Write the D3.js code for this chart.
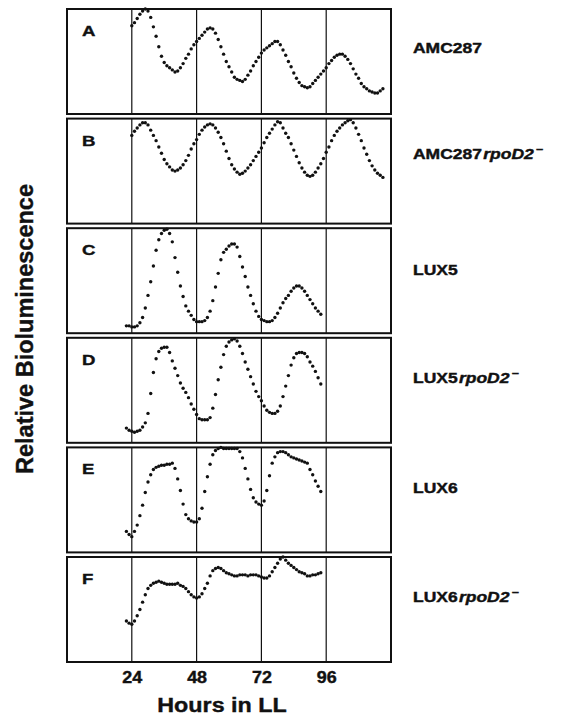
<!DOCTYPE html>
<html>
<head>
<meta charset="utf-8">
<script src="https://cdn.jsdelivr.net/npm/d3@7"></script>
<style>
  body { margin: 0; background: #fff; }
  text { font-family: "Liberation Sans", Arial, Helvetica, sans-serif; font-weight: bold; fill: #111; stroke: #111; stroke-width: 0.4; }
</style>
</head>
<body>
<script>
// Data
var panelLetters = ["A", "B", "C", "D", "E", "F"];
var strainNames = ["AMC287", "AMC287", "LUX5", "LUX5", "LUX6", "LUX6"];
var strainSuffix = ["", "rpoD2", "", "rpoD2", "", "rpoD2"];
var startHours = [24, 24, 22, 22, 22, 22];
var hourTicks = [24, 48, 72, 96];

// relative bioluminescence, one value per hour (0 = panel bottom, 100 = panel top)
var lumA = [84, 87, 91, 95, 98, 100, 98, 92, 83, 74,
            64, 55, 49, 46, 44, 42, 40, 41, 44, 48,
            53, 57, 62, 66, 69, 72, 75, 78, 81, 82,
            81, 77, 71, 64, 57, 50, 45, 40, 35, 33,
            32, 31, 33, 37, 41, 46, 50, 54, 58, 61,
            63, 65, 67, 69, 69, 66, 61, 56, 50, 45,
            39, 34, 30, 27, 26, 25, 26, 29, 32, 35,
            38, 41, 44, 48, 51, 54, 56, 57, 57, 55,
            52, 48, 43, 38, 34, 29, 26, 24, 22, 21,
            20, 20, 22, 24];
var lumB = [84, 88, 91, 94, 96, 96, 94, 89, 84, 79,
            73, 67, 61, 57, 54, 51, 50, 51, 53, 56,
            60, 65, 71, 76, 80, 85, 89, 92, 94, 95,
            94, 91, 87, 82, 76, 69, 62, 56, 52, 49,
            47, 48, 50, 53, 56, 60, 64, 68, 72, 77,
            82, 86, 90, 94, 97, 96, 91, 86, 82, 76,
            70, 64, 58, 53, 49, 46, 45, 46, 49, 53,
            57, 62, 68, 73, 79, 84, 88, 91, 94, 96,
            98, 99, 96, 91, 85, 79, 72, 66, 60, 55,
            51, 48, 46, 44];
var lumC = [7, 7, 6, 6, 7, 10, 15, 24, 36, 49,
            64, 79, 89, 95, 98, 99, 95, 87, 72, 58,
            45, 35, 26, 21, 17, 13, 11, 11, 11, 12,
            15, 21, 31, 44, 57, 70, 77, 80, 83, 85,
            85, 82, 73, 63, 54, 44, 36, 28, 21, 16,
            13, 12, 11, 11, 12, 15, 19, 24, 29, 33,
            36, 40, 43, 45, 45, 43, 40, 36, 32, 28,
            24, 21, 18];
var lumD = [14, 12, 11, 10, 11, 12, 15, 19, 28, 47,
            67, 80, 87, 90, 91, 91, 86, 78, 71, 64,
            57, 52, 48, 43, 37, 32, 27, 23, 22, 22,
            22, 24, 33, 46, 60, 72, 84, 92, 96, 98,
            99, 97, 92, 85, 77, 70, 63, 56, 49, 44,
            40, 35, 31, 29, 28, 28, 30, 35, 44, 54,
            64, 74, 81, 85, 86, 86, 85, 82, 77, 73,
            68, 62, 56];
var lumE = [20, 17, 15, 20, 26, 35, 45, 57, 67, 74,
            79, 81, 82, 83, 83, 84, 84, 85, 80, 70,
            59, 46, 36, 32, 30, 29, 29, 32, 42, 58,
            72, 84, 93, 97, 99, 100, 99, 99, 99, 99,
            99, 99, 96, 90, 80, 70, 60, 52, 48, 46,
            45, 49, 59, 73, 85, 91, 95, 96, 96, 95,
            93, 91, 90, 89, 88, 87, 86, 85, 79, 74,
            68, 63, 58];
var lumF = [39, 37, 36, 39, 44, 50, 57, 64, 70, 73,
            75, 76, 77, 76, 75, 74, 74, 74, 74, 75,
            73, 72, 70, 67, 64, 62, 61, 62, 65, 70,
            75, 82, 87, 89, 90, 89, 87, 85, 84, 83,
            82, 82, 83, 83, 83, 82, 83, 83, 83, 82,
            81, 80, 80, 82, 86, 90, 94, 98, 100, 97,
            94, 92, 90, 88, 86, 85, 84, 82, 82, 83,
            83, 84, 85];
var series = [lumA, lumB, lumC, lumD, lumE, lumF];

// Layout
var width = 564;
var height = 716;
var left = 67;
var right = 391;
var panelTop = 9;
var panelStep = 109.6;
var panelHeight = 105;
var labelOffsets = [44, 40, 47, 45, 45.5, 45];

var svg = d3.select("body")
            .append("svg")
            .attr("width", width)
            .attr("height", height);

var scaleX = d3.scaleLinear()
               .domain([0, 120])
               .range([left, right]);

series.forEach(function(values, i) {
  var top = panelTop + i * panelStep;
  var scaleY = d3.scaleLinear()
                 .domain([0, 100])
                 .range([top + panelHeight, top]);
  var g = svg.append("g");

  // 24 h grid lines
  g.selectAll("line")
   .data(hourTicks)
   .enter()
   .append("line")
   .attr("x1", function(d) { return scaleX(d); })
   .attr("x2", function(d) { return scaleX(d); })
   .attr("y1", top)
   .attr("y2", top + panelHeight)
   .attr("stroke", "#111")
   .attr("stroke-width", 1.2);

  // panel frame
  g.append("rect")
   .attr("x", left)
   .attr("y", top)
   .attr("width", right - left)
   .attr("height", panelHeight)
   .attr("fill", "none")
   .attr("stroke", "#111")
   .attr("stroke-width", 2);

  // measurements
  g.selectAll("circle")
   .data(values)
   .enter()
   .append("circle")
   .attr("cx", function(d, j) { return scaleX(startHours[i] + j); })
   .attr("cy", function(d) { return scaleY(d); })
   .attr("r", 1.7)
   .attr("fill", "#111");

  // panel letter
  g.append("text")
   .text(panelLetters[i])
   .attr("font-size", 15.5)
   .attr("transform", "translate(82," + (top + 27) + ") scale(1.2,1)");

  // strain label
  var label = g.append("text")
               .attr("font-size", 14)
               .attr("transform", "translate(413," + (top + labelOffsets[i]) + ") scale(1.25,1)");
  label.append("tspan").text(strainNames[i]);
  if (strainSuffix[i]) {
    label.append("tspan").attr("font-style", "italic").attr("dx", 1).text(strainSuffix[i]);
    label.append("tspan").attr("font-size", 10).attr("dx", 2).attr("dy", -6).text("\u2212");
  }
});

// x axis tick labels
var bottom = panelTop + 5 * panelStep + panelHeight;
var xAxis = d3.axisBottom(scaleX)
              .tickValues(hourTicks)
              .tickSize(0)
              .tickPadding(10);
var axisG = svg.append("g")
               .attr("transform", "translate(0," + bottom + ")")
               .call(xAxis);
axisG.select(".domain").remove();
axisG.attr("font-family", null);
axisG.selectAll("text")
     .attr("font-size", 16)
     .attr("transform", "scale(1.12,1)");

// axis titles
svg.append("text")
   .text("Hours in LL")
   .attr("font-size", 21)
   .attr("text-anchor", "middle")
   .attr("transform", "translate(222,712) scale(1.11,1)");

svg.append("text")
   .text("Relative Bioluminescence")
   .attr("font-size", 23.5)
   .attr("text-anchor", "middle")
   .attr("transform", "translate(33,329) rotate(-90)");
</script>
</body>
</html>
